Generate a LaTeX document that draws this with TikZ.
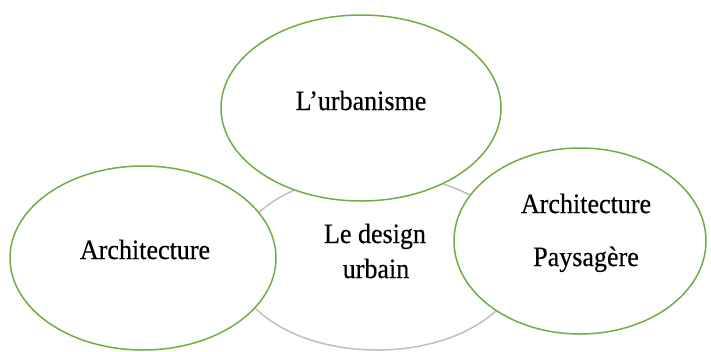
\documentclass[tikz,border=0pt]{standalone}
\usepackage{fontspec}
\setmainfont{Liberation Serif}[FakeStretch=0.93,FakeBold=0.4]
\usetikzlibrary{shapes.geometric}
\definecolor{ogreen}{RGB}{112,173,71}
\definecolor{lgray}{RGB}{191,191,191}
\tikzset{
  bubble/.style={ellipse, draw=ogreen, line width=1.5pt, fill=white, inner sep=0pt},
  centerbubble/.style={ellipse, draw=lgray, line width=1.5pt, fill=white, inner sep=0pt},
  lbl/.style={anchor=base, inner sep=0pt, font=\fontsize{28}{32}\selectfont}
}
\begin{document}
\begin{tikzpicture}[x=1pt,y=-1pt]
\useasboundingbox[fill=white] (0,0) rectangle (711,351);
\node[centerbubble, minimum width=286pt, minimum height=176pt] (core) at (377,262) {};
\node[bubble, minimum width=280pt, minimum height=186pt] (urb) at (361,108) {};
\node[bubble, minimum width=266pt, minimum height=184pt] (arch) at (143,258) {};
\node[bubble, minimum width=252pt, minimum height=186pt] (pays) at (580,241) {};
\node[lbl] (t1) at (361,110) {L’urbanisme};
\node[lbl] (t2) at (145,259) {Architecture};
\node[lbl] (t3) at (375,243) {Le design};
\node[lbl] (t4) at (376,278) {urbain};
\node[lbl] (t5) at (586,213) {Architecture};
\node[lbl] (t6) at (586,266) {Paysagère};
\end{tikzpicture}
\end{document}
